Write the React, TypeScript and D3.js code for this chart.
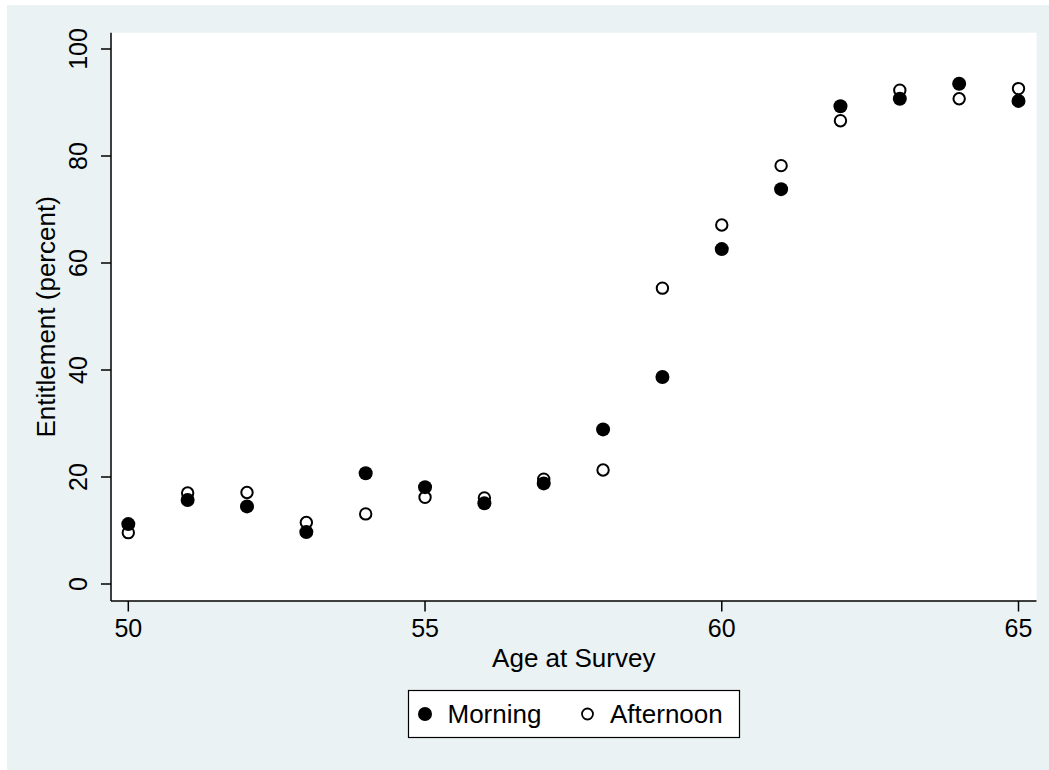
import React, { useEffect, useRef } from 'react';
import * as d3 from 'd3';

const ages = [50, 51, 52, 53, 54, 55, 56, 57, 58, 59, 60, 61, 62, 63, 64, 65];
const morning = [11.2, 15.7, 14.5, 9.7, 20.7, 18.1, 15.1, 18.8, 28.9, 38.7, 62.6, 73.8, 89.3, 90.7, 93.5, 90.3];
const afternoon = [9.6, 17.0, 17.1, 11.5, 13.1, 16.2, 16.1, 19.6, 21.3, 55.3, 67.1, 78.2, 86.6, 92.3, 90.7, 92.6];
const xTicks = [50, 55, 60, 65];
const yTicks = [0, 20, 40, 60, 80, 100];
const seriesNames = ['Morning', 'Afternoon'];

const W = 1049;
const H = 770;
const FONT = '"Liberation Sans", Arial, sans-serif';

const draw = (node: SVGSVGElement) => {
  const svg = d3.select(node);
  svg.selectAll('*').remove();

  const plot = { left: 111, right: 1036.5, top: 32.7, bottom: 601 };
  const x = d3.scaleLinear().domain([50, 65]).range([128.3, 1018.5]);
  const y = d3.scaleLinear().domain([0, 100]).range([584, 49]);

  // graph region + plot region
  svg.append('rect').attr('x', 7).attr('y', 5).attr('width', W - 7).attr('height', H - 5).attr('fill', '#eaf2f3');
  svg
    .append('rect')
    .attr('x', plot.left)
    .attr('y', plot.top)
    .attr('width', plot.right - plot.left)
    .attr('height', plot.bottom - plot.top)
    .attr('fill', '#fff');

  // points: afternoon first so morning sits on top
  const pts = (vals: number[]) => ages.map((a, i) => ({ a, v: vals[i] }));

  svg
    .append('g')
    .selectAll('circle')
    .data(pts(afternoon))
    .join('circle')
    .attr('cx', (d) => x(d.a))
    .attr('cy', (d) => y(d.v))
    .attr('r', 5.7)
    .attr('fill', 'none')
    .attr('stroke', '#000')
    .attr('stroke-width', 2);

  svg
    .append('g')
    .selectAll('circle')
    .data(pts(morning))
    .join('circle')
    .attr('cx', (d) => x(d.a))
    .attr('cy', (d) => y(d.v))
    .attr('r', 7)
    .attr('fill', '#000');

  // y axis
  const ya = svg.append('g').attr('transform', `translate(${plot.left},0)`);
  ya.append('line').attr('y1', plot.top).attr('y2', plot.bottom).attr('stroke', '#000').attr('stroke-width', 1.5);
  ya.selectAll('line.tick')
    .data(yTicks)
    .join('line')
    .attr('class', 'tick')
    .attr('x1', -10)
    .attr('x2', 0)
    .attr('y1', (d) => y(d))
    .attr('y2', (d) => y(d))
    .attr('stroke', '#000')
    .attr('stroke-width', 1.5);
  svg
    .append('g')
    .selectAll('text')
    .data(yTicks)
    .join('text')
    .attr('transform', (d) => `translate(87,${y(d)}) rotate(-90)`)
    .attr('text-anchor', 'middle')
    .attr('font-size', 25)
    .text((d) => d);

  // x axis
  const xa = svg.append('g').attr('transform', `translate(0,${plot.bottom})`);
  xa.append('line').attr('x1', plot.left).attr('x2', plot.right).attr('stroke', '#000').attr('stroke-width', 1.5);
  xa.selectAll('line.tick')
    .data(xTicks)
    .join('line')
    .attr('class', 'tick')
    .attr('x1', (d) => x(d))
    .attr('x2', (d) => x(d))
    .attr('y1', 0)
    .attr('y2', 10.5)
    .attr('stroke', '#000')
    .attr('stroke-width', 1.5);
  xa.selectAll('text')
    .data(xTicks)
    .join('text')
    .attr('x', (d) => x(d))
    .attr('y', 35.5)
    .attr('text-anchor', 'middle')
    .attr('font-size', 25)
    .text((d) => d);

  // titles
  svg
    .append('text')
    .attr('x', (plot.left + plot.right) / 2)
    .attr('y', 667)
    .attr('text-anchor', 'middle')
    .attr('font-size', 26)
    .text('Age at Survey');
  svg
    .append('text')
    .attr('transform', `translate(55,${(plot.top + plot.bottom) / 2}) rotate(-90)`)
    .attr('text-anchor', 'middle')
    .attr('font-size', 26)
    .text('Entitlement (percent)');

  // legend
  const lg = svg.append('g');
  lg.append('rect')
    .attr('x', 408.5)
    .attr('y', 690.5)
    .attr('width', 331)
    .attr('height', 47)
    .attr('fill', '#fff')
    .attr('stroke', '#000')
    .attr('stroke-width', 1.2);
  lg.append('circle').attr('cx', 425).attr('cy', 714).attr('r', 7).attr('fill', '#000');
  lg.append('circle')
    .attr('cx', 587.5)
    .attr('cy', 714)
    .attr('r', 5.5)
    .attr('fill', 'none')
    .attr('stroke', '#000')
    .attr('stroke-width', 1.8);
  lg.append('text').attr('x', 447.5).attr('y', 722.5).attr('font-size', 26).text(seriesNames[0]);
  lg.append('text').attr('x', 610).attr('y', 722.5).attr('font-size', 26).text(seriesNames[1]);
};

const App = () => {
  const ref = useRef<SVGSVGElement>(null);
  useEffect(() => {
    if (ref.current) draw(ref.current);
  }, []);
  return (
    <svg
      ref={ref}
      width={W}
      height={H}
      style={{ position: 'absolute', left: 0, top: 0, fontFamily: FONT, background: '#fff' }}
    />
  );
};

export default App;
